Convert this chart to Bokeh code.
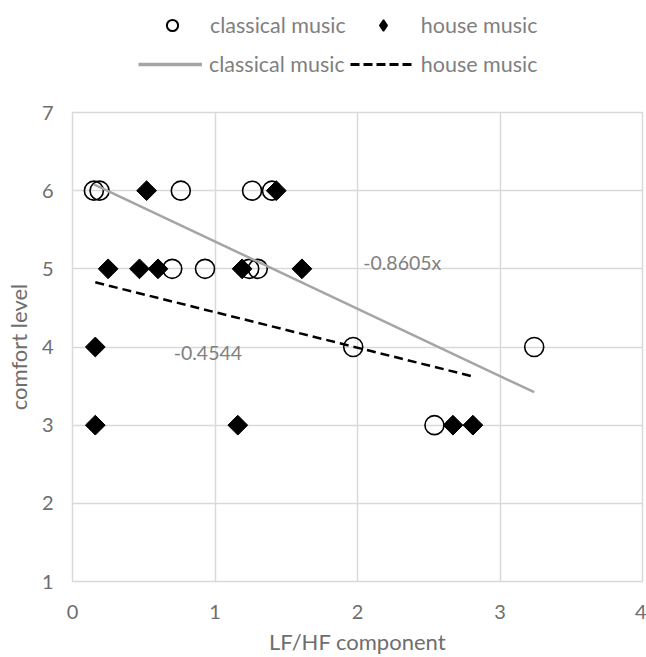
import math
from bokeh.plotting import figure
from bokeh.layouts import column
from bokeh.models import Legend, LegendItem, Range1d, Label, FixedTicker, ColumnDataSource
from bokeh.embed import file_html
from bokeh.resources import INLINE

# ---- data ----
classical_x = [0.15, 0.19, 0.76, 1.26, 1.40, 0.70, 0.93, 1.24, 1.30, 1.97, 3.24, 2.54]
classical_y = [6, 6, 6, 6, 6, 5, 5, 5, 5, 4, 4, 3]
house_x = [0.52, 1.43, 0.25, 0.47, 0.60, 1.19, 1.61, 0.16, 0.16, 1.16, 2.67, 2.81]
house_y = [6, 6, 5, 5, 5, 5, 5, 4, 3, 3, 3, 3]
classical_slope = -0.8605
classical_intercept = 6.21
house_slope = -0.4544
house_intercept = 4.90
classical_label = "-0.8605x"
house_label = "-0.4544"
series_names = ["classical music", "house music"]
x_ticks = [0, 1, 2, 3, 4]
y_ticks = [1, 2, 3, 4, 5, 6, 7]

FONT = "Lato"
GRID = "#d9d9d9"
TXT = "#808080"
AXT = "#6e6e6e"
W = 646

# ---------- main plot ----------
p = figure(width=W, height=557, output_backend="svg", toolbar_location=None,
           x_range=Range1d(0, 4), y_range=Range1d(1, 7),
           min_border_left=72, min_border_right=4, min_border_top=12, min_border_bottom=70)
p.outline_line_color = GRID
p.outline_line_width = 1.5

for ax in (p.xaxis[0], p.yaxis[0]):
    ax.axis_line_color = None
    ax.major_tick_line_color = None
    ax.minor_tick_line_color = None
    ax.major_label_text_font = FONT
    ax.major_label_text_font_size = "20px"
    ax.major_label_text_color = AXT
    ax.axis_label_text_font = FONT
    ax.axis_label_text_font_size = "22px"
    ax.axis_label_text_font_style = "normal"
    ax.axis_label_text_color = AXT
p.xaxis.ticker = FixedTicker(ticks=x_ticks)
p.yaxis.ticker = FixedTicker(ticks=y_ticks)
p.xaxis.axis_label = "LF/HF component"
p.yaxis.axis_label = "comfort level"
p.xaxis.major_label_standoff = 17
p.yaxis.major_label_standoff = 13
p.xaxis.axis_label_standoff = 6
p.yaxis.axis_label_standoff = 7
p.xgrid.ticker = FixedTicker(ticks=x_ticks)
p.ygrid.ticker = FixedTicker(ticks=y_ticks)
for g in (p.xgrid[0], p.ygrid[0]):
    g.grid_line_color = GRID
    g.grid_line_width = 1.5

cs = ColumnDataSource(dict(x=classical_x, y=classical_y))
hs = ColumnDataSource(dict(x=house_x, y=house_y))
p.scatter("x", "y", source=cs, marker="circle", size=19, line_color="black",
          line_width=1.6, fill_color=None)
p.scatter("x", "y", source=hs, marker="square", size=14, angle=math.pi / 4,
          line_color="black", fill_color="black")

cx = [min(classical_x), max(classical_x)]
cy = [classical_intercept + classical_slope * v for v in cx]
hx = [min(house_x), max(house_x)]
hy = [house_intercept + house_slope * v for v in hx]
p.line(cx, cy, line_color="#a5a5a5", line_width=2.5)
p.line(hx, hy, line_color="black", line_width=2.5, line_dash="9 5")

p.add_layout(Label(x=2.04, y=5.085, text=classical_label, text_font=FONT,
                   text_font_size="19.5px", text_color=TXT, text_baseline="middle"))
p.add_layout(Label(x=0.71, y=3.92, text=house_label, text_font=FONT,
                   text_font_size="19.5px", text_color=TXT, text_baseline="middle"))

# ---------- legend strip ----------
t = figure(width=W, height=100, output_backend="svg", toolbar_location=None,
           x_range=Range1d(0, W), y_range=Range1d(0, 100),
           x_axis_location=None, y_axis_location=None,
           min_border=0, min_border_left=0, min_border_right=0,
           min_border_top=0, min_border_bottom=0)
t.grid.visible = False
t.outline_line_color = None

# off-screen stand-ins that only supply the legend glyphs
off_x = [-1000, -999]
off_y = [-1000, -999]
lc = t.scatter(off_x, off_y, marker="circle", size=10, line_color="black", line_width=2,
               fill_color=None)
lh = t.scatter(off_x, off_y, marker="diamond", size=10, line_color="black",
               line_width=1.5, fill_color="black")
ll = t.line(off_x, off_y, line_color="#a5a5a5", line_width=3.5)
ld = t.line(off_x, off_y, line_color="black", line_width=3, line_dash="9 4")

def mk_legend(items, gw, gh, standoff, spacing, loc):
    return Legend(items=items, orientation="horizontal", location=loc,
                  glyph_width=gw, glyph_height=gh, label_standoff=standoff, spacing=spacing,
                  padding=0, margin=0, border_line_color=None, background_fill_alpha=0,
                  label_text_font=FONT, label_text_font_size="21.5px", label_text_color=TXT,
                  label_height=gh)

# the column aligns this strip's frame with the main frame (left edge at 72 px)
leg1 = mk_legend([LegendItem(label=series_names[0], renderers=[lc]),
                  LegendItem(label=series_names[1], renderers=[lh])], 28, 28, 24, 23, (86, 61))
leg2 = mk_legend([LegendItem(label=series_names[0], renderers=[ll]),
                  LegendItem(label=series_names[1], renderers=[ld])], 64, 20, 7, 5, (66, 23))
t.add_layout(leg1)
t.add_layout(leg2)

layout = column(t, p, spacing=0)
open("out.html", "w").write(file_html(layout, INLINE))
